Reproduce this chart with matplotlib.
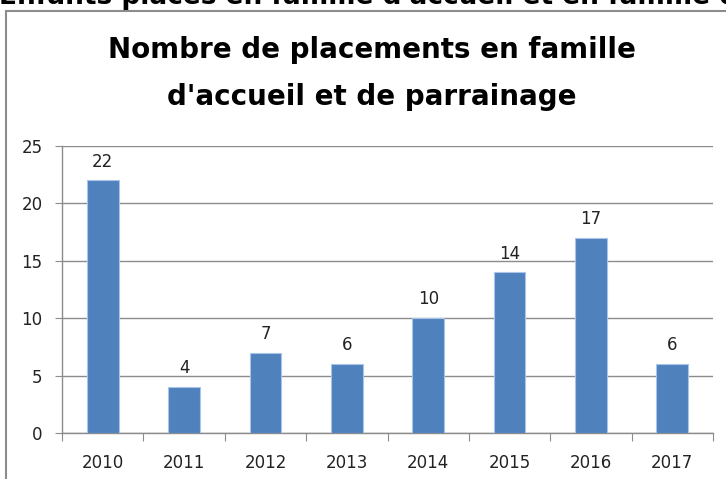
import numpy as np
import matplotlib.pyplot as plt
from matplotlib.patches import Rectangle

# Nombre de placements par annee
years = ['2010', '2011', '2012', '2013', '2014', '2015', '2016', '2017']
placements = [22, 4, 7, 6, 10, 14, 17, 6]
y_ticks = [0, 5, 10, 15, 20, 25]

W, H = 726, 479
fig = plt.figure(figsize=(W / 100, H / 100), dpi=100)
plt.rcParams['font.family'] = ['DejaVu Sans']

# texte coupe en haut de l'image
fig.text(-1 / W, 1 - 4 / H, "Enfants placés en famille d'accueil et en famille de parrainage",
         fontsize=19, fontweight='bold', color='black', ha='left', va='baseline')

# cadre du graphique
frame = Rectangle((6 / W, -0.1), 1.2, 1.1 - 11 / H, transform=fig.transFigure,
                  fill=False, edgecolor='#8c8c8c', linewidth=1.5)
fig.patches.append(frame)

ax = fig.add_axes([62 / W, 1 - 433 / H, (713 - 62) / W, (433 - 146) / H])
x = np.arange(len(years))
bars = ax.bar(x, placements, width=0.39, color='#4f81bd', edgecolor='#a9c4e6',
              linewidth=0.8, zorder=3)

for xi, v in zip(x, placements):
    ax.text(xi, v + 0.85, str(v), ha='center', va='bottom', fontsize=12, color='#222222')

ax.set_xlim(-0.5, len(years) - 0.5)
ax.set_ylim(0, 25)
ax.set_yticks(y_ticks)
ax.set_yticklabels([str(t) for t in y_ticks], fontsize=12, color='#222222')
ax.yaxis.grid(True, color='#8c8c8c', linewidth=1.0, zorder=0)

# ticks entre les categories
ax.set_xticks(np.arange(-0.5, len(years)), minor=False)
ax.set_xticklabels([])
ax.set_xticks(x, minor=True)
ax.set_xticklabels(years, minor=True, fontsize=12, color='#222222')
ax.tick_params(axis='x', which='minor', length=0, pad=15)
ax.tick_params(axis='x', which='major', length=6, color='#8c8c8c', direction='out')
ax.tick_params(axis='y', length=5, color='#8c8c8c', direction='out', pad=9)

for s in ['top', 'right']:
    ax.spines[s].set_visible(False)
for s in ['left', 'bottom']:
    ax.spines[s].set_color('#8c8c8c')
    ax.spines[s].set_linewidth(1.0)

fig.text(372 / W, 1 - 50 / H, 'Nombre de placements en famille',
         fontsize=20, fontweight='bold', ha='center', va='center')
fig.text(372 / W, 1 - 97 / H, "d'accueil et de parrainage",
         fontsize=20, fontweight='bold', ha='center', va='center')

fig.savefig('out.png', dpi=100)
